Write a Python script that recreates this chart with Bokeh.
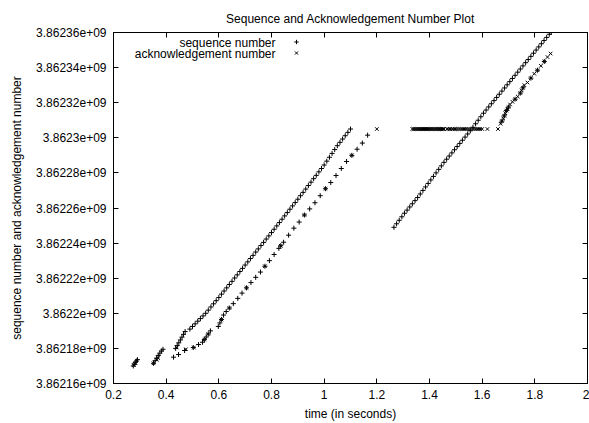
from bokeh.plotting import figure
from bokeh.models import (Range1d, FixedTicker, LinearAxis, Legend, LegendItem, Label)
from bokeh.embed import file_html
from bokeh.resources import INLINE

# ---------------- data ----------------
BASE = 3862160000  # sequence numbers are stored as offsets (bytes) from this base

# sequence number series ("+")
seq_t_early = [0.275, 0.279, 0.283, 0.287, 0.291,
               0.352, 0.358, 0.364, 0.370, 0.376, 0.382, 0.388,
               0.436, 0.442, 0.448, 0.454, 0.460, 0.466, 0.472]
seq_v_early = [10000, 11000, 12000, 12800, 13600,
               11500, 13000, 14500, 16000, 17300, 18500, 19500,
               20000, 21600, 23200, 24800, 26400, 28000, 29600]

seq_t_run1 = [0.49, 0.50, 0.51, 0.52, 0.53, 0.54, 0.55, 0.56, 0.57, 0.58, 0.59,
              0.60, 0.61, 0.62, 0.63, 0.64, 0.65, 0.66, 0.67, 0.68, 0.69,
              0.70, 0.71, 0.72, 0.73, 0.74, 0.75, 0.76, 0.77, 0.78, 0.79,
              0.80, 0.81, 0.82, 0.83, 0.84, 0.85, 0.86, 0.87, 0.88, 0.89,
              0.90, 0.91, 0.92, 0.93, 0.94, 0.95, 0.96, 0.97, 0.98, 0.99,
              1.00, 1.01, 1.02, 1.03, 1.04, 1.05, 1.06, 1.07, 1.08, 1.09, 1.10]
seq_v_run1 = [31000, 32500, 34000, 35500, 37000, 38500, 40000, 41800, 43600, 45400, 47200,
              49000, 50900, 52700, 54500, 56400, 58200, 60100, 61900, 63800, 65600,
              67500, 69300, 71200, 73000, 74900, 76700, 78600, 80400, 82300, 84100,
              86000, 87900, 89800, 91700, 93600, 95500, 97400, 99300, 101200, 103100,
              105000, 107000, 108900, 110800, 112800, 114700, 116700, 118600, 120600, 122500,
              124500, 126700, 128900, 131100, 133300, 135500, 137400, 139300, 141200, 143100, 145000]

seq_t_lag1 = [0.428, 0.447, 0.470, 0.503, 0.523, 0.538, 0.545, 0.552, 0.560, 0.568,
              0.598, 0.604, 0.610, 0.618, 0.628, 0.640, 0.655, 0.672, 0.688, 0.705,
              0.722, 0.740, 0.758, 0.775, 0.792, 0.810, 0.828, 0.835, 0.846, 0.865,
              0.885, 0.905, 0.925, 0.945, 0.965, 0.985, 1.005, 1.025, 1.045, 1.065,
              1.085, 1.105, 1.125, 1.145, 1.165]
seq_v_lag1 = [15000, 16500, 18800, 20500, 22200, 23500, 25000, 26500, 28200, 30000,
              32500, 34500, 36500, 39000, 41000, 43000, 45500, 48500, 51500, 54500,
              57500, 60500, 63500, 66800, 70000, 73500, 77000, 78500, 80500, 84500,
              88500, 92000, 96000, 99500, 103000, 107000, 111000, 114500, 118500, 122500,
              126500, 130000, 133500, 137000, 141500]

seq_t_run2 = [1.265, 1.275, 1.285, 1.295, 1.305, 1.315, 1.325, 1.335, 1.345, 1.355,
              1.365, 1.375, 1.385, 1.395, 1.405, 1.415, 1.425, 1.435, 1.445, 1.455,
              1.465, 1.475, 1.485, 1.495, 1.505, 1.515, 1.525, 1.535, 1.545, 1.555,
              1.565, 1.575, 1.585, 1.595, 1.605, 1.615, 1.625, 1.635, 1.645, 1.655,
              1.665, 1.675, 1.685, 1.695, 1.705, 1.715, 1.725, 1.735, 1.745, 1.755,
              1.765, 1.775, 1.785, 1.795, 1.805, 1.815, 1.825, 1.835, 1.845, 1.855, 1.862]
seq_v_run2 = [89000, 91000, 93000, 95000, 97000, 98800, 100600, 102400, 104200, 106000,
              108000, 110000, 112000, 114000, 116000, 118000, 120000, 122000, 124000, 126000,
              127800, 129600, 131400, 133200, 135000, 136800, 138600, 140400, 142200, 144000,
              146000, 148000, 150000, 152000, 154000, 155800, 157600, 159400, 161200, 163000,
              164800, 166600, 168400, 170200, 172000, 173800, 175600, 177400, 179200, 181000,
              182800, 184600, 186400, 188200, 190000, 191800, 193600, 195400, 197200, 199000, 200000]

seq_t_lag2 = [1.675, 1.684, 1.692, 1.700, 1.725, 1.745, 1.755, 1.785, 1.810, 1.836]
seq_v_lag2 = [149500, 152500, 155500, 157500, 162000, 165500, 168500, 174000, 178500, 183500]

# acknowledgement number series ("x")
ack_t_early = [0.277, 0.284, 0.352, 0.365, 0.370, 0.440, 0.475,
               0.505, 0.545, 0.560, 0.610, 0.640, 0.705, 0.775, 0.835, 0.925, 1.005, 1.105, 1.200]
ack_v_early = [10500, 11500, 11500, 13500, 14500, 20500, 19500,
               20500, 25000, 28200, 36500, 43000, 54500, 66800, 78500, 96000, 111000, 130000, 145000]

ack_t_dup = [1.335, 1.339, 1.343, 1.347, 1.351, 1.355, 1.359, 1.363, 1.367, 1.371,
             1.375, 1.379, 1.383, 1.387, 1.391, 1.395, 1.399, 1.403, 1.407, 1.411,
             1.415, 1.419, 1.423, 1.427, 1.431, 1.435, 1.439, 1.443, 1.447, 1.451, 1.455,
             1.466, 1.472, 1.478, 1.484, 1.490, 1.497, 1.503, 1.510, 1.517, 1.524,
             1.531, 1.538, 1.545, 1.552, 1.560, 1.568, 1.576, 1.584, 1.592, 1.600,
             1.620, 1.660]
ack_v_dup = [145000] * 53

ack_t_lag2 = [1.670, 1.675, 1.680, 1.684, 1.688, 1.692, 1.696, 1.700, 1.706, 1.715,
              1.725, 1.735, 1.745, 1.750, 1.755, 1.760, 1.772, 1.785, 1.798, 1.810,
              1.823, 1.836, 1.848, 1.860]
ack_v_lag2 = [148000, 149500, 151000, 152500, 154000, 155500, 156500, 157500, 159000, 160500,
              162000, 163500, 165500, 167000, 168500, 170000, 171500, 174000, 176500, 178500,
              181000, 183500, 186000, 188000]

x_ticks = [0.2, 0.4, 0.6, 0.8, 1.0, 1.2, 1.4, 1.6, 1.8, 2.0]
x_tick_labels = ["0.2", "0.4", "0.6", "0.8", "1", "1.2", "1.4", "1.6", "1.8", "2"]
y_ticks = [3862160000, 3862180000, 3862200000, 3862220000, 3862240000, 3862260000,
           3862280000, 3862300000, 3862320000, 3862340000, 3862360000]
y_tick_labels = ["3.86216e+09", "3.86218e+09", "3.8622e+09", "3.86222e+09", "3.86224e+09",
                 "3.86226e+09", "3.86228e+09", "3.8623e+09", "3.86232e+09", "3.86234e+09",
                 "3.86236e+09"]

title_text = "Sequence and Acknowledgement Number Plot"
x_label = "time (in seconds)"
y_label = "sequence number and acknowledgement number"
seq_label = "sequence number"
ack_label = "acknowledgement number"

# ---------------- assemble series ----------------
seq_t = seq_t_early + seq_t_run1 + seq_t_lag1 + seq_t_run2 + seq_t_lag2
seq_v = [BASE + v for v in (seq_v_early + seq_v_run1 + seq_v_lag1 + seq_v_run2 + seq_v_lag2)]
ack_t = ack_t_early + ack_t_dup + ack_t_lag2
ack_v = [BASE + v for v in (ack_v_early + ack_v_dup + ack_v_lag2)]

FONT = "Liberation Sans"
FS = "12px"

p = figure(width=589, height=423, output_backend="svg", toolbar_location=None,
           x_range=Range1d(0.2, 2.0), y_range=Range1d(y_ticks[0], y_ticks[-1]),
           min_border_left=113, min_border_right=2, min_border_top=32, min_border_bottom=40,
           x_axis_label=x_label, y_axis_label=y_label)
p.background_fill_color = "white"
p.border_fill_color = "white"
p.outline_line_color = "black"
p.outline_line_width = 1
p.xgrid.visible = False
p.ygrid.visible = False

p.title.text = title_text
p.title.align = "center"
p.title.text_font = FONT
p.title.text_font_size = FS
p.title.text_font_style = "normal"
p.title.text_color = "black"
p.title.standoff = 14

def style_axis(ax, labels):
    ax.major_tick_in = 5
    ax.major_tick_out = 0
    ax.minor_tick_line_color = None
    ax.axis_line_color = "black"
    ax.major_tick_line_color = "black"
    ax.major_label_text_color = "black"
    ax.major_label_text_font = FONT
    ax.major_label_text_font_size = FS
    ax.axis_label_text_font = FONT
    ax.axis_label_text_font_size = FS
    ax.axis_label_text_font_style = "normal"
    ax.axis_label_text_color = "black"
    if not labels:
        ax.major_label_text_font_size = "0px"
        ax.major_label_standoff = 0

xa = p.xaxis[0]
xa.ticker = FixedTicker(ticks=x_ticks)
xa.major_label_overrides = dict(zip(x_ticks, x_tick_labels))
style_axis(xa, True)
xa.major_label_standoff = 6
xa.axis_label_standoff = 5

ya = p.yaxis[0]
ya.ticker = FixedTicker(ticks=y_ticks)
ya.major_label_overrides = dict(zip(y_ticks, y_tick_labels))
style_axis(ya, True)
ya.major_label_standoff = 7
ya.axis_label_standoff = 9

ra = LinearAxis(ticker=FixedTicker(ticks=y_ticks))
style_axis(ra, False)
p.add_layout(ra, "right")
ta = LinearAxis(ticker=FixedTicker(ticks=x_ticks))
style_axis(ta, False)
p.add_layout(ta, "above")

r_seq = p.scatter(seq_t, seq_v, marker="cross", size=5, line_color="black", line_width=1)
r_ack = p.scatter(ack_t, ack_v, marker="x", size=5, line_color="black", line_width=1)

# legend markers only (texts drawn as right-aligned labels, gnuplot style)
legend = Legend(items=[LegendItem(label=" ", renderers=[r_seq]),
                       LegendItem(label=" ", renderers=[r_ack])],
                location=(177, 325), orientation="vertical",
                glyph_width=12, glyph_height=11, label_height=11, spacing=0,
                padding=0, margin=0, label_standoff=0,
                label_text_font=FONT, label_text_font_size=FS,
                border_line_color=None, background_fill_alpha=0)
p.add_layout(legend, "center")

for txt, yy in [(seq_label, 341), (ack_label, 330)]:
    p.add_layout(Label(x=162, y=yy, x_units="screen", y_units="screen", text=txt,
                       text_align="right", text_baseline="middle", text_font=FONT,
                       text_font_size=FS, text_color="black"))

open("out.html", "w").write(file_html(p, INLINE))
